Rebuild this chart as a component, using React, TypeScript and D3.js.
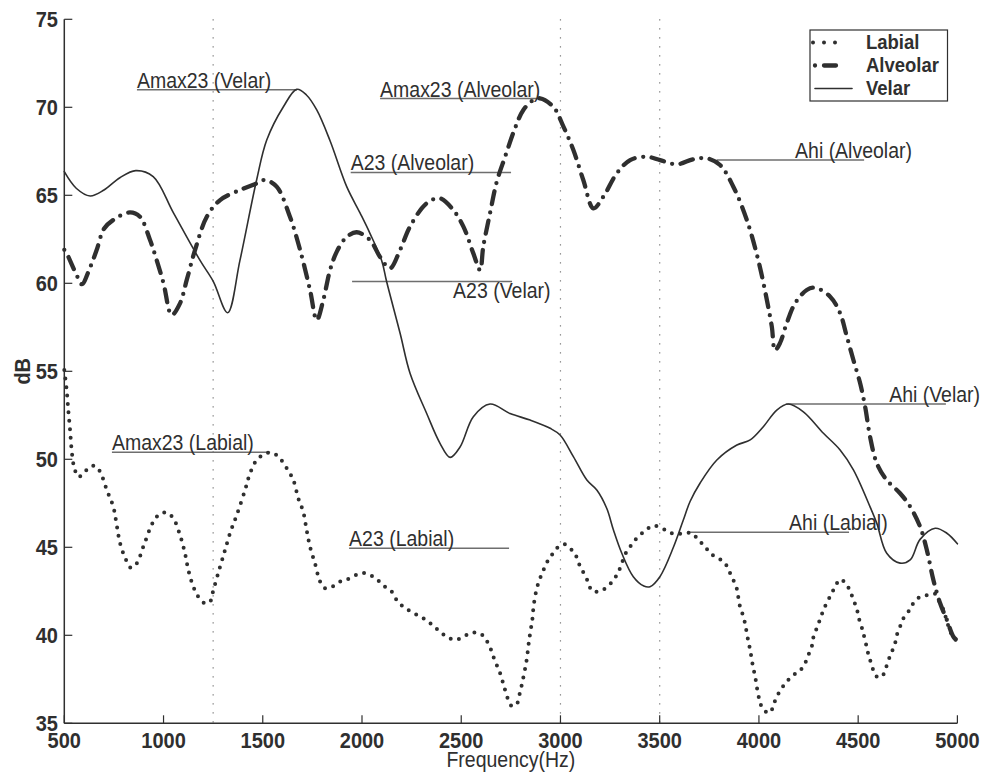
import React from 'react';
import * as d3 from 'd3';

const W = 987;
const H = 777;

// Spectra (frequency in Hz, level in dB)
const labial: [number, number][] = [
  [500, 55.07], [512, 53.94], [520, 52.8], [529, 51.67], [537, 50.53], [549, 49.58], [571, 49.0], [596, 49.2],
  [630, 49.58], [655, 49.62], [680, 49.3], [714, 48.26], [747, 47.3], [764, 46.27], [781, 45.23], [811, 44.28],
  [835, 43.84], [865, 44.09], [898, 45.03], [948, 46.45], [982, 46.9], [1016, 46.97], [1049, 46.65], [1083, 45.7],
  [1108, 44.66], [1125, 43.71], [1150, 42.76], [1175, 42.19], [1209, 41.82], [1234, 41.91], [1251, 42.57],
  [1285, 43.9], [1310, 44.85], [1335, 45.8], [1369, 46.84], [1411, 48.26], [1436, 49.2], [1470, 49.96],
  [1528, 50.38], [1570, 50.24], [1621, 49.49], [1654, 48.82], [1679, 47.78], [1704, 47.02], [1721, 45.98],
  [1738, 45.03], [1763, 44.09], [1789, 43.05], [1814, 42.67], [1856, 42.8], [1898, 43.1], [1940, 43.24],
  [1982, 43.48], [2024, 43.52], [2074, 43.18], [2116, 42.76], [2150, 42.48], [2175, 42.0], [2208, 41.62],
  [2242, 41.38], [2284, 41.12], [2323, 40.87], [2360, 40.53], [2393, 40.2], [2427, 39.92], [2469, 39.73],
  [2511, 39.92], [2553, 40.15], [2595, 40.11], [2620, 39.83], [2645, 39.32], [2662, 38.78], [2679, 38.31],
  [2696, 37.84], [2709, 37.36], [2721, 36.89], [2734, 36.42], [2755, 35.98], [2780, 36.1], [2793, 36.61],
  [2805, 37.18], [2817, 37.84], [2827, 38.41], [2835, 39.07], [2842, 39.73], [2850, 40.3], [2859, 40.97],
  [2864, 41.6], [2872, 42.19], [2881, 42.67], [2894, 43.14], [2911, 43.61], [2931, 44.13], [2956, 44.56],
  [2981, 44.94], [3020, 45.17], [3057, 44.85], [3082, 44.43], [3099, 43.9], [3120, 43.48], [3141, 42.99],
  [3158, 42.53], [3191, 42.48], [3233, 42.73], [3267, 43.14], [3292, 43.61], [3309, 44.09], [3326, 44.6],
  [3351, 45.03], [3384, 45.51], [3426, 45.93], [3468, 46.23], [3511, 46.08], [3544, 45.89], [3577, 45.74],
  [3619, 45.8], [3662, 45.8], [3695, 45.42], [3729, 45.03], [3754, 44.66], [3796, 44.37], [3829, 44.09],
  [3851, 43.61], [3871, 43.14], [3888, 42.67], [3897, 42.1], [3905, 41.62], [3919, 41.15], [3930, 40.68],
  [3939, 40.11], [3947, 39.64], [3956, 39.16], [3964, 38.6], [3972, 38.12], [3981, 37.65], [3989, 37.08],
  [3997, 36.61], [4006, 36.17], [4023, 35.76], [4056, 35.6], [4073, 36.04], [4090, 36.51], [4115, 36.99],
  [4140, 37.36], [4174, 37.74], [4207, 37.99], [4232, 38.41], [4249, 38.88], [4266, 39.35], [4275, 39.92],
  [4291, 40.4], [4308, 40.91], [4325, 41.44], [4342, 41.85], [4367, 42.39], [4385, 42.8], [4410, 43.18],
  [4434, 42.99], [4459, 42.53], [4476, 42.0], [4493, 41.53], [4501, 41.05], [4515, 40.58], [4526, 40.11],
  [4538, 39.58], [4548, 39.07], [4560, 38.6], [4573, 38.12], [4594, 37.65], [4619, 37.65], [4636, 38.03],
  [4653, 38.6], [4670, 39.07], [4686, 39.55], [4695, 40.02], [4711, 40.49], [4728, 40.97], [4753, 41.34],
  [4778, 41.82], [4812, 42.19], [4854, 42.29], [4888, 42.35], [4905, 42.0], [4930, 41.44], [4947, 40.78],
  [4965, 40.2], [4980, 39.83], [5000, 39.7],
];

const alveolar: [number, number][] = [
  [500, 61.9], [512, 61.7], [562, 60.47], [588, 59.95], [630, 60.9], [663, 61.89], [700, 63.1], [747, 63.6],
  [831, 64.03], [881, 63.78], [932, 62.46], [966, 61.3], [1000, 60.0], [1041, 58.2], [1083, 58.86],
  [1117, 60.19], [1159, 61.9], [1218, 63.78], [1285, 64.73], [1385, 65.3], [1470, 65.68], [1511, 65.87],
  [1570, 65.49], [1637, 63.78], [1688, 61.9], [1738, 59.62], [1772, 57.91], [1805, 59.05], [1839, 60.75],
  [1873, 61.8], [1920, 62.6], [1973, 62.9], [2040, 62.46], [2091, 61.5], [2141, 60.85], [2192, 61.9],
  [2242, 63.22], [2326, 64.55], [2393, 64.83], [2460, 64.16], [2511, 63.22], [2561, 61.7], [2595, 60.75],
  [2611, 62.08], [2645, 63.98], [2679, 65.77], [2721, 67.19], [2771, 68.81], [2813, 69.85], [2863, 70.41],
  [2897, 70.51], [2964, 70.03], [3015, 68.9], [3065, 67.57], [3115, 65.87], [3166, 64.26], [3216, 64.92],
  [3284, 66.25], [3351, 67.0], [3435, 67.19], [3502, 67.0], [3586, 66.76], [3670, 67.05], [3737, 67.1],
  [3804, 66.72], [3871, 65.49], [3939, 63.6], [3997, 61.3], [4040, 59.05], [4065, 57.53], [4081, 56.2],
  [4106, 56.6], [4140, 57.73], [4182, 58.86], [4241, 59.62], [4283, 59.75], [4359, 59.24], [4409, 58.3],
  [4443, 56.97], [4476, 55.64], [4510, 54.32], [4535, 52.99], [4560, 51.28], [4594, 49.77], [4644, 48.82],
  [4711, 48.07], [4762, 47.31], [4812, 46.17], [4846, 44.85], [4879, 43.14], [4913, 41.82], [4947, 40.87],
  [4980, 39.92], [5000, 39.7],
];

const velar: [number, number][] = [
  [500, 66.34], [560, 65.4], [630, 64.96], [700, 65.3], [780, 66.0], [860, 66.4], [948, 66.06], [1050, 64.0],
  [1184, 61.3], [1251, 60.1], [1323, 58.33], [1385, 61.3], [1469, 65.87], [1520, 68.14], [1604, 70.03],
  [1671, 71.02], [1720, 70.7], [1772, 69.85], [1839, 68.1], [1923, 65.49], [1990, 64.0], [2040, 62.84],
  [2099, 61.3], [2124, 60.1], [2192, 57.16], [2242, 54.89], [2326, 52.6], [2393, 50.91], [2444, 50.11],
  [2494, 50.7], [2561, 52.42], [2645, 53.14], [2746, 52.6], [2847, 52.23], [2948, 51.76], [2998, 51.38],
  [3065, 50.15], [3133, 48.82], [3183, 48.26], [3233, 47.22], [3267, 45.98], [3309, 44.66], [3367, 43.33],
  [3420, 42.8], [3451, 42.76], [3501, 43.33], [3569, 45.0], [3619, 46.55], [3653, 47.6], [3703, 48.64],
  [3788, 49.96], [3889, 50.81], [3956, 51.1], [4022, 51.85], [4090, 52.8], [4148, 53.14], [4224, 52.7],
  [4325, 51.48], [4409, 50.53], [4476, 49.4], [4560, 47.3], [4594, 46.36], [4644, 44.66], [4711, 44.1],
  [4762, 44.28], [4812, 45.45], [4888, 46.08], [4947, 45.8], [5000, 45.2],
];

const xTicks = [500, 1000, 1500, 2000, 2500, 3000, 3500, 4000, 4500, 5000];
const yTicks = [35, 40, 45, 50, 55, 60, 65, 70, 75];
const guideFreqs = [1250, 3000, 3500];

// Measurement annotations: label, line span (Hz), level (dB), label start (Hz), label under the line?
const annotations = [
  { text: 'Amax23 (Velar)', f0: 866, f1: 1672, db: 71.0, tf: 866, below: false },
  { text: 'Amax23 (Alveolar)', f0: 2091, f1: 2910, db: 70.5, tf: 2091, below: false },
  { text: 'A23 (Alveolar)', f0: 1943, f1: 2751, db: 66.3, tf: 1943, below: false },
  { text: 'A23 (Velar)', f0: 1950, f1: 2756, db: 60.1, tf: 2459, below: true },
  { text: 'Amax23 (Labial)', f0: 740, f1: 1537, db: 50.4, tf: 740, below: false },
  { text: 'A23 (Labial)', f0: 1935, f1: 2741, db: 44.95, tf: 1935, below: false },
  { text: 'Ahi (Alveolar)', f0: 3788, f1: 4530, db: 67.0, tf: 4182, below: false },
  { text: 'Ahi (Velar)', f0: 4135, f1: 4942, db: 53.14, tf: 4656, below: false },
  { text: 'Ahi (Labial)', f0: 3653, f1: 4454, db: 45.85, tf: 4152, below: false },
];

const legendItems = ['Labial', 'Alveolar', 'Velar'];

const INK = '#2f2f2f';
const FONT = '"Liberation Sans", Arial, Helvetica, sans-serif';
const STRETCH = 1.1;

const x = d3.scaleLinear().domain([500, 5000]).range([64.3, 957.4]);
const y = d3.scaleLinear().domain([35, 75]).range([723.3, 19.3]);

const line = d3
  .line<[number, number]>()
  .x((d) => x(d[0]))
  .y((d) => y(d[1]))
  .curve(d3.curveCatmullRom.alpha(0.5));

const styles = {
  Labial: { width: 4, dash: '0 8.5', legendDash: '0 11' },
  Alveolar: { width: 4.3, dash: '0 8.5 13 8.5', legendDash: '0 9 12 9' },
  Velar: { width: 1.6, dash: undefined as string | undefined, legendDash: undefined as string | undefined },
};

function Label(props: {
  x: number;
  y: number;
  text: string;
  size: number;
  bold?: boolean;
  anchor?: 'start' | 'middle' | 'end';
  rotate?: number;
}) {
  const { rotate = 0 } = props;
  return (
    <text
      transform={`translate(${props.x},${props.y}) rotate(${rotate}) scale(1,${STRETCH})`}
      fontFamily={FONT}
      fontSize={props.size}
      fontWeight={props.bold ? 'bold' : 'normal'}
      textAnchor={props.anchor ?? 'start'}
      fill={INK}
    >
      {props.text}
    </text>
  );
}

export default function App() {
  const series: { name: keyof typeof styles; data: [number, number][] }[] = [
    { name: 'Labial', data: labial },
    { name: 'Alveolar', data: alveolar },
    { name: 'Velar', data: velar },
  ];
  const [y0, y1] = y.range();
  const [x0, x1] = x.range();

  return (
    <svg
      width={W}
      height={H}
      viewBox={`0 0 ${W} ${H}`}
      style={{ position: 'absolute', left: 0, top: 0, background: '#fff' }}
    >
      <rect x={0} y={0} width={W} height={H} fill="#fff" />

      {/* vertical guides */}
      {guideFreqs.map((f) => (
        <line
          key={f}
          x1={x(f)}
          x2={x(f)}
          y1={y1}
          y2={y0}
          stroke="#777"
          strokeWidth={1.2}
          strokeDasharray="1.3 7.7"
        />
      ))}

      {/* annotation lines and labels */}
      {annotations.map((a) => (
        <g key={a.text}>
          <line x1={x(a.f0)} x2={x(a.f1)} y1={y(a.db)} y2={y(a.db)} stroke="#6e6e6e" strokeWidth={1.5} />
          <Label
            x={x(a.tf)}
            y={a.below ? y(a.db) + 16 : y(a.db) - 2}
            text={a.text}
            size={19.5}
          />
        </g>
      ))}

      {/* spectra */}
      {series.map((s) => (
        <path
          key={s.name}
          d={line(s.data) ?? ''}
          fill="none"
          stroke={INK}
          strokeWidth={styles[s.name].width}
          strokeDasharray={styles[s.name].dash}
          strokeLinecap="round"
          strokeLinejoin="round"
        />
      ))}

      {/* axes */}
      <line x1={x0} x2={x0} y1={y0} y2={y1} stroke={INK} strokeWidth={1.5} />
      <line x1={x0} x2={x1} y1={y0} y2={y0} stroke={INK} strokeWidth={1.5} />
      {yTicks.map((t) => (
        <g key={`y${t}`}>
          <line x1={x0} x2={x0 + 8} y1={y(t)} y2={y(t)} stroke={INK} strokeWidth={1.2} />
          <Label x={58} y={y(t) + 8} text={String(t)} size={20} bold anchor="end" />
        </g>
      ))}
      {xTicks.map((t) => (
        <g key={`x${t}`}>
          <line x1={x(t)} x2={x(t)} y1={y0} y2={y0 - 8} stroke={INK} strokeWidth={1.2} />
          <Label x={x(t)} y={748} text={String(t)} size={20} bold anchor="middle" />
        </g>
      ))}
      <Label x={(x0 + x1) / 2} y={767} text="Frequency(Hz)" size={19.5} anchor="middle" />
      <Label x={30} y={(y0 + y1) / 2} text="dB" size={20} bold anchor="middle" rotate={-90} />

      {/* legend */}
      <rect x={810} y={30} width={137.5} height={71} fill="#fff" stroke={INK} strokeWidth={1.2} />
      {legendItems.map((name, i) => {
        const ly = 42.5 + i * 23;
        const st = styles[name as keyof typeof styles];
        return (
          <g key={name}>
            <line
              x1={name === 'Labial' ? 813 : 815}
              x2={name === 'Velar' ? 852 : name === 'Labial' ? 846 : 845}
              y1={ly}
              y2={ly}
              stroke={INK}
              strokeWidth={st.width}
              strokeDasharray={st.legendDash}
              strokeLinecap="round"
            />
            <Label x={866} y={ly + 6.5} text={name} size={18.5} bold />
          </g>
        );
      })}
    </svg>
  );
}
